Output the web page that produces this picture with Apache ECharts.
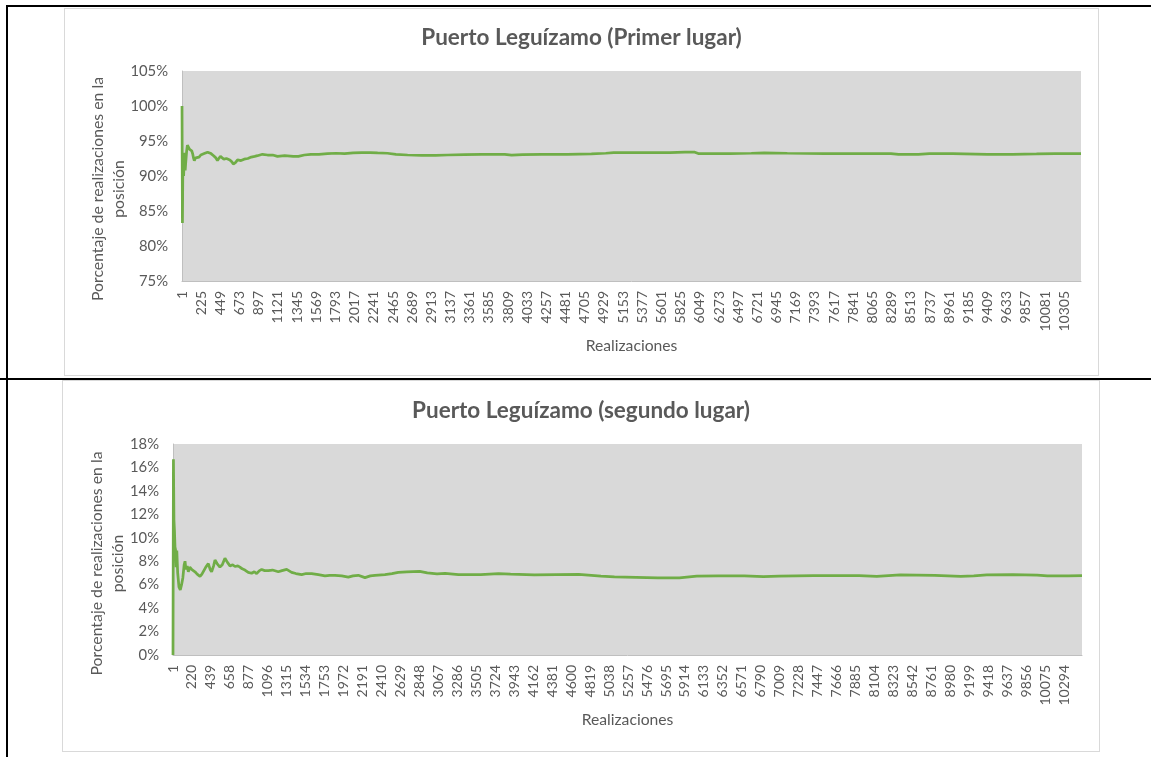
<!DOCTYPE html>
<html>
<head>
<meta charset="utf-8">
<script src="https://cdn.jsdelivr.net/npm/echarts@6/dist/echarts.min.js"></script>
<style>
  body { margin: 0; background: #fff; width: 1151px; height: 757px; position: relative; overflow: hidden; }
  .line { position: absolute; background: #000; }
  .frame { position: absolute; box-sizing: border-box; border: 1px solid #d9d9d9; background: #fff; }
  .frame > div { width: 100%; height: 100%; }
</style>
</head>
<body>
<div class="line" style="left:7px;top:5px;width:1144px;height:2px"></div>
<div class="line" style="left:6px;top:5px;width:2px;height:752px"></div>
<div class="line" style="left:0;top:378px;width:1151px;height:2px"></div>

<div class="frame" style="left:64px;top:8px;width:1035px;height:368px"><div id="primer"></div></div>
<div class="frame" style="left:62px;top:380px;width:1038px;height:372px"><div id="segundo"></div></div>

<script>
// realizaciones (eje x) y porcentaje acumulado en la posición
var realPrimer = [1, 6, 10, 15, 20, 25, 30, 38, 45, 55, 64, 75, 90, 103, 115, 125, 135, 145, 160, 180,
  200, 220, 240, 260, 280, 300, 320, 340, 370, 395, 415, 430, 450, 470, 490, 520, 560, 585, 600, 625,
  650, 690, 727, 770, 810, 850, 883, 940, 1000, 1060, 1116, 1200, 1300, 1360, 1430, 1506, 1600, 1700,
  1800, 1900, 2000, 2100, 2200, 2285, 2400, 2500, 2636, 2800, 2962, 3100, 3300, 3500, 3770, 3850,
  3977, 4200, 4500, 4783, 4950, 5043, 5400, 5700, 5874, 5990, 6030, 6400, 6650, 6800, 7070, 7500,
  8000, 8280, 8370, 8600, 8730, 9000, 9410, 9700, 9980, 10200, 10500];
var pctPrimer = [100, 83.3, 90, 93.3, 90, 92, 93.3, 90.8, 92, 93.5, 94.4, 94.2, 93.8, 94.0, 93.6, 93.2, 92.6, 92.2, 92.6, 92.8,
  92.7, 93.0, 93.1, 93.2, 93.3, 93.4, 93.3, 93.2, 92.9, 92.6, 92.2, 92.5, 92.8, 92.6, 92.4, 92.5, 92.3, 92.0, 91.7, 91.9,
  92.3, 92.2, 92.4, 92.5, 92.7, 92.8, 92.9, 93.1, 93.0, 93.0, 92.8, 92.9, 92.8, 92.8, 93.0, 93.1, 93.1, 93.2,
  93.25, 93.2, 93.3, 93.35, 93.35, 93.3, 93.25, 93.1, 93.0, 92.95, 92.95, 93.0, 93.05, 93.1, 93.1, 92.98,
  93.05, 93.1, 93.1, 93.15, 93.25, 93.35, 93.35, 93.35, 93.4, 93.4, 93.2, 93.2, 93.25, 93.3, 93.25, 93.2,
  93.2, 93.2, 93.1, 93.1, 93.2, 93.2, 93.1, 93.1, 93.15, 93.2, 93.2];

var realSegundo = [1, 6, 12, 18, 24, 30, 38, 45, 55, 70, 85, 100, 115, 130, 140, 150, 165, 178, 195, 216,
  235, 255, 280, 313, 335, 351, 380, 409, 430, 447, 470, 486, 510, 543, 570, 601, 630, 659, 690, 717,
  750, 774, 800, 832, 870, 909, 940, 967, 1000, 1025, 1060, 1102, 1150, 1217, 1260, 1314, 1371, 1420,
  1487, 1540, 1602, 1680, 1756, 1810, 1872, 1950, 2026, 2080, 2141, 2218, 2280, 2334, 2449, 2530, 2603,
  2700, 2850, 2938, 3050, 3144, 3298, 3555, 3761, 3900, 4173, 4430, 4687, 4944, 5100, 5350, 5600, 5850,
  6050, 6300, 6600, 6820, 7000, 7400, 7772, 7926, 8130, 8400, 8594, 8800, 9100, 9250, 9400, 9700, 9982,
  10100, 10342, 10500];
var pctSegundo = [0, 16.7, 11.5, 10.6, 9.2, 9.0, 7.5, 8.9, 7.0, 5.8, 5.55, 6.0, 6.6, 7.7, 8.0, 7.3, 7.6, 7.1, 7.5, 7.3,
  7.4, 7.1, 6.9, 6.7, 6.9, 7.0, 7.5, 7.8, 7.3, 7.1, 7.6, 8.1, 7.8, 7.5, 7.7, 8.25, 7.9, 7.6, 7.7, 7.55,
  7.6, 7.5, 7.35, 7.25, 7.05, 6.97, 7.1, 6.95, 7.2, 7.3, 7.2, 7.2, 7.25, 7.1, 7.2, 7.3, 7.05, 6.95,
  6.85, 6.95, 6.95, 6.85, 6.75, 6.8, 6.8, 6.75, 6.65, 6.75, 6.8, 6.6, 6.75, 6.8, 6.85, 6.95, 7.05,
  7.1, 7.14, 7.0, 6.92, 6.97, 6.86, 6.86, 6.95, 6.9, 6.83, 6.86, 6.88, 6.73, 6.66, 6.63, 6.58, 6.57,
  6.72, 6.74, 6.75, 6.68, 6.72, 6.78, 6.78, 6.77, 6.7, 6.84, 6.82, 6.8, 6.7, 6.74, 6.84, 6.85, 6.82,
  6.74, 6.75, 6.77];

// etiquetas del eje x tal como aparecen
var ticksPrimer = [1, 225, 449, 673, 897, 1121, 1345, 1569, 1793, 2017, 2241, 2465, 2689, 2913, 3137,
  3361, 3585, 3809, 4033, 4257, 4481, 4705, 4929, 5153, 5377, 5601, 5825, 6049, 6273, 6497, 6721,
  6945, 7169, 7393, 7617, 7841, 8065, 8289, 8513, 8737, 8961, 9185, 9409, 9633, 9857, 10081, 10305];
var ticksSegundo = [1, 220, 439, 658, 877, 1096, 1315, 1534, 1753, 1972, 2191, 2410, 2629, 2848, 3067,
  3286, 3505, 3724, 3943, 4162, 4381, 4600, 4819, 5038, 5257, 5476, 5695, 5914, 6133, 6352, 6571,
  6790, 7009, 7228, 7447, 7666, 7885, 8104, 8323, 8542, 8761, 8980, 9199, 9418, 9637, 9856, 10075, 10294];

var gris = '#595959';
var fuente = 'Lato';

function pares(xs, ys) {
  return xs.map(function (x, i) { return [x, ys[i]]; });
}

function opciones(titulo, titleTop, grid, ticks, yMin, yMax, yStep, datos, gapY, shiftY) {
  return {
    animation: false,
    title: {
      text: titulo, left: 'center', top: titleTop,
      textStyle: { fontFamily: fuente, fontSize: 22.5, fontWeight: 'bold', color: gris }
    },
    grid: Object.assign({ show: true, backgroundColor: '#d9d9d9', borderWidth: 0 }, grid),
    xAxis: {
      type: 'value', min: 1, max: 10500,
      name: 'Realizaciones', nameLocation: 'middle', nameGap: 57, nameMoveOverlap: false,
      nameTextStyle: { fontFamily: fuente, fontSize: 15.7, color: gris },
      axisLine: { show: true, onZero: false, lineStyle: { color: '#bfbfbf' } },
      axisTick: { show: false },
      splitLine: { show: false },
      axisLabel: {
        customValues: ticks, rotate: 90, margin: 10, fontFamily: fuente, fontSize: 14, color: gris,
        formatter: function (v) { return String(v); }
      }
    },
    yAxis: {
      type: 'value', min: yMin, max: yMax, interval: yStep,
      name: 'Porcentaje de realizaciones en la\nposición', nameLocation: 'middle', nameRotate: 90,
      nameGap: gapY, nameMoveOverlap: false,
      nameTextStyle: { fontFamily: fuente, fontSize: 15.8, lineHeight: 21, color: gris, padding: [0, shiftY, 0, 0] },
      axisLine: { show: true, onZero: false, lineStyle: { color: '#bfbfbf' } },
      axisTick: { show: false },
      splitLine: { show: false },
      axisLabel: { formatter: '{value}%', margin: 14, fontFamily: fuente, fontSize: 14.8, color: gris }
    },
    series: [{
      type: 'line', data: datos, showSymbol: false,
      lineStyle: { color: '#70ad47', width: 2.75 }
    }]
  };
}

var chart1 = echarts.init(document.getElementById('primer'));
chart1.setOption(opciones('Puerto Leguízamo (Primer lugar)', 12,
  { left: 117, top: 62, right: 17, bottom: 94 },
  ticksPrimer, 75, 105, 5, pares(realPrimer, pctPrimer), 53, 26));

var chart2 = echarts.init(document.getElementById('segundo'));
chart2.setOption(opciones('Puerto Leguízamo (segundo lugar)', 13,
  { left: 110, top: 63, right: 17, bottom: 96 },
  ticksSegundo, 0, 18, 2, pares(realSegundo, pctSegundo), 45, 28));
</script>
</body>
</html>
